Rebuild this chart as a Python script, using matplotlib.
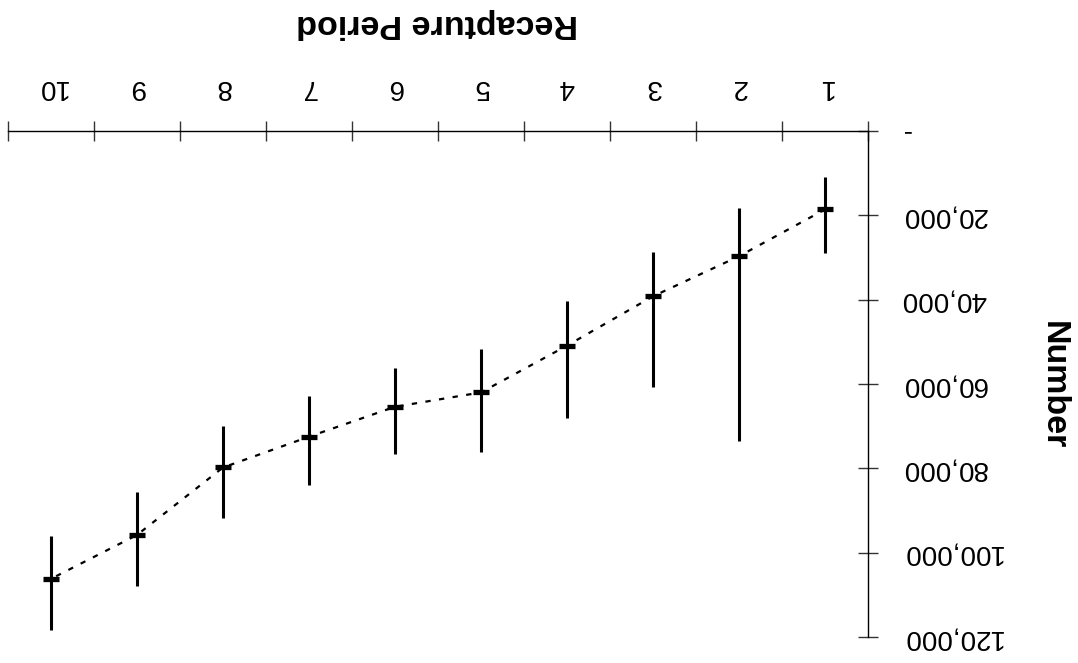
import matplotlib
matplotlib.use("Agg")
import matplotlib.pyplot as plt

period = [1, 2, 3, 4, 5, 6, 7, 8, 9, 10]
number = [18600, 29700, 39200, 50900, 62000, 65400, 72500, 79800, 95800, 106200]
lower = [11000, 18300, 28800, 40400, 51600, 56100, 62800, 69900, 85600, 96000]
upper = [29000, 73400, 60600, 68000, 76200, 76700, 83900, 91700, 107900, 118300]

y_ticks = [0, 20000, 40000, 60000, 80000, 100000, 120000]
y_tick_labels = ["-", "20,000", "40,000", "60,000", "80,000", "100,000", "120,000"]
x_bounds = [p - 0.5 for p in period] + [period[-1] + 0.5]

plt.rcParams['font.family'] = ['Liberation Sans', 'DejaVu Sans']

fig = plt.figure(figsize=(10.78, 6.63), dpi=100)
ax = fig.add_axes([0.0074, 0.0392, 0.7978, 0.7632])

# whole chart is shown rotated by 180 degrees
ax.set_xlim(10.5, 0.5)
ax.set_ylim(120000, 0)

ax.vlines(period, lower, upper, color='black', linewidth=2.2)
ax.plot(period, number, color='black', linewidth=1.6, dashes=(2.4, 3.8))
ax.plot(period, number, linestyle='none', marker='_', markersize=12,
        markeredgewidth=3.8, color='black')

for side in ['left', 'bottom']:
    ax.spines[side].set_visible(False)
for side in ['right', 'top']:
    ax.spines[side].set_linewidth(1.0)

ax.xaxis.tick_top()
ax.yaxis.tick_right()

ax.set_xticks(x_bounds)
ax.set_xticklabels([])
ax.set_xticks(period, minor=True)
ax.set_xticklabels([str(p) for p in period], minor=True, rotation=180, fontsize=20)
ax.tick_params(axis='x', which='major', direction='inout', length=13.7, width=1.0, color='#333333')
ax.tick_params(axis='x', which='minor', length=0, pad=22.3)

ax.set_yticks(y_ticks)
ax.set_yticklabels(y_tick_labels, rotation=180, fontsize=20, va='center')
ax.tick_params(axis='y', direction='inout', length=13.7, width=1.0, pad=17.0, color='#333333')

fig.text(437 / 1078, 1 - 24 / 663, "Recapture Period", rotation=180, ha='center',
         va='center', fontsize=24.5, fontweight='bold')
fig.text(1053 / 1078, 1 - 385 / 663, "Number", rotation=270, ha='center',
         va='center', fontsize=24.5, fontweight='bold')

fig.savefig("out.png", dpi=100)
